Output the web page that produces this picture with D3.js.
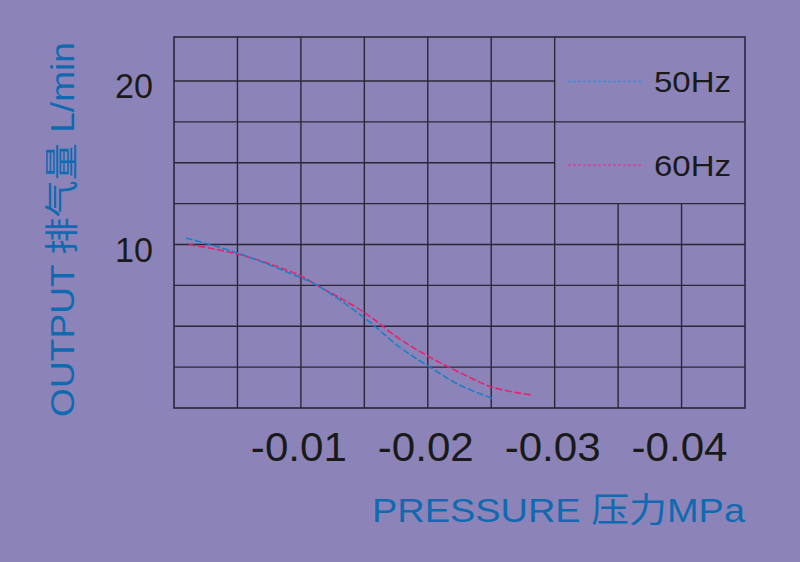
<!DOCTYPE html>
<html><head><meta charset="utf-8">
<script src="https://cdn.jsdelivr.net/npm/d3@7"></script>
<style>html,body{margin:0;padding:0;background:#8c84b8;}svg{display:block;}</style>
</head><body>
<svg id="c" width="800" height="562"></svg>
<script>
// Data
const pressureTicks = [-0.01, -0.02, -0.03, -0.04];
const tickLabelsX = ["-0.01", "-0.02", "-0.03", "-0.04"];
const outputTicks = [10, 20];
const tickLabelsY = ["10", "20"];
const gridX = [-0.005, -0.01, -0.015, -0.02, -0.025, -0.03, -0.035, -0.04];
const gridY = [2.5, 5, 7.5, 10, 12.5, 15, 17.5, 20];
const seriesNames = ["50Hz", "60Hz"];
const p50 = [-0.00094, -0.0051, -0.00984, -0.01124, -0.0149, -0.0178, -0.0201, -0.0225, -0.0251];
const q50 = [10.40, 9.46, 8.01, 7.52, 5.58, 3.71, 2.53, 1.41, 0.59];
const p60 = [-0.00118, -0.0051, -0.00984, -0.01124, -0.0149, -0.0178, -0.0201, -0.0225, -0.0251, -0.0283];
const q60 = [9.99, 9.40, 8.13, 7.52, 5.89, 4.22, 3.14, 2.18, 1.27, 0.78];

const svg = d3.select("#c");
const W = 800, H = 562;
svg.append("rect").attr("width", W).attr("height", H).attr("fill", "#8c84b8");

const x = d3.scaleLinear().domain([0, -0.045]).range([174, 745]);
const y = d3.scaleLinear().domain([0, 20]).range([408, 81]);
const yTop = 37;
const font = "'Liberation Sans', Arial, 'Noto Sans CJK SC', sans-serif";
const gridColor = "#2b2736";

const g = svg.append("g");
g.selectAll("line.vx").data(gridX).enter().append("line")
  .attr("x1", d => x(d)).attr("x2", d => x(d))
  .attr("y1", d => d < -0.031 ? y(12.5) : yTop).attr("y2", y(0))
  .attr("stroke", gridColor).attr("stroke-width", 1.4);
g.selectAll("line.hy").data(gridY).enter().append("line")
  .attr("y1", d => y(d)).attr("y2", d => y(d))
  .attr("x1", x(0)).attr("x2", d => (d === 20 || d === 15) ? x(-0.03) : x(-0.045))
  .attr("stroke", gridColor).attr("stroke-width", 1.4);
g.append("rect").attr("x", x(0)).attr("y", yTop)
  .attr("width", x(-0.045) - x(0)).attr("height", y(0) - yTop)
  .attr("fill", "none").attr("stroke", gridColor).attr("stroke-width", 1.6);

const line = d3.line().x(d => x(d[0])).y(d => y(d[1])).curve(d3.curveCatmullRom.alpha(0.5));
const d50 = p50.map((p, i) => [p, q50[i]]);
const d60 = p60.map((p, i) => [p, q60[i]]);
svg.append("path").attr("d", line(d60)).attr("fill", "none")
  .attr("stroke", "#e5236f").attr("stroke-width", 1.6).attr("stroke-dasharray", "7,2.5");
svg.append("path").attr("d", line(d50)).attr("fill", "none")
  .attr("stroke", "#1b7fc6").attr("stroke-width", 1.6).attr("stroke-dasharray", "7,2.5");

const legY = [81.5, 165];
const legColors = ["#3a8cd2", "#d2409c"];
seriesNames.forEach((n, i) => {
  svg.append("line").attr("x1", 568).attr("x2", 643).attr("y1", legY[i]).attr("y2", legY[i])
    .attr("stroke", legColors[i]).attr("stroke-width", 1.3).attr("stroke-dasharray", "3,2");
  svg.append("text").attr("x", 654).attr("y", legY[i] + 10.5)
    .attr("font-family", font).attr("font-size", 30).attr("fill", "#1a1a1a")
    .attr("textLength", 77).attr("lengthAdjust", "spacingAndGlyphs").text(n);
});

svg.selectAll("text.xt").data(pressureTicks).enter().append("text")
  .attr("x", d => x(d) - 2).attr("y", 461).attr("text-anchor", "middle")
  .attr("font-family", font).attr("font-size", 40).attr("fill", "#1a1a1a")
  .attr("textLength", 96).attr("lengthAdjust", "spacingAndGlyphs")
  .text((d, i) => tickLabelsX[i]);
svg.selectAll("text.yt").data(outputTicks).enter().append("text")
  .attr("x", 153).attr("y", d => y(d) + 17).attr("text-anchor", "end")
  .attr("font-family", font).attr("font-size", 35).attr("fill", "#1a1a1a")
  .attr("textLength", 38).attr("lengthAdjust", "spacingAndGlyphs")
  .text((d, i) => tickLabelsY[i]);

svg.append("text").attr("x", 372).attr("y", 522)
  .attr("font-family", font).attr("font-size", 34).attr("fill", "#0f6ab2")
  .attr("textLength", 373).attr("lengthAdjust", "spacingAndGlyphs")
  .text("PRESSURE 压力MPa");
svg.append("text").attr("transform", "translate(74,417) rotate(-90)")
  .attr("font-family", font).attr("font-size", 34).attr("fill", "#0f6ab2")
  .attr("textLength", 375).attr("lengthAdjust", "spacingAndGlyphs")
  .text("OUTPUT 排气量 L/min");
</script>
</body></html>
